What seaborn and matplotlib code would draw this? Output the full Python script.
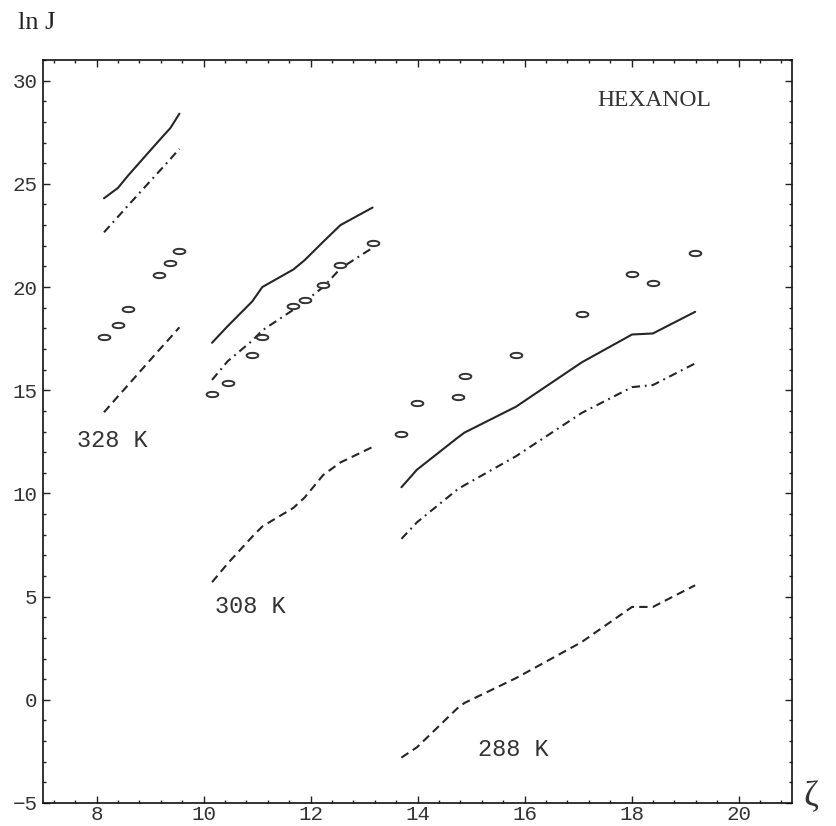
import numpy as np
import pandas as pd
import matplotlib
matplotlib.use("Agg")
import matplotlib.pyplot as plt
from matplotlib.ticker import MultipleLocator
import seaborn as sns

# ---- data: ln J versus zeta for hexanol at three temperatures ----
# 328 K
x_328 = [8.14, 8.40, 8.59, 9.17, 9.38, 9.55]
exp_328 = [17.57, 18.15, 18.92, 20.57, 21.15, 21.73]
solid_328 = [24.3, 24.8, 25.4, 27.1, 27.7, 28.4]
dashdot_328 = [22.65, 23.4, 23.95, 25.6, 26.2, 26.7]
dashed_328 = [13.93, 14.7, 15.25, 16.95, 17.55, 18.05]

# 308 K
x_308 = [10.16, 10.45, 10.91, 11.10, 11.68, 11.89, 12.24, 12.56, 13.16]
exp_308 = [14.81, 15.34, 16.69, 17.57, 19.07, 19.36, 20.08, 21.05, 22.12]
solid_308 = [17.3, 18.1, 19.3, 20.0, 20.85, 21.3, 22.2, 23.0, 23.85]
dashdot_308 = [15.5, 16.4, 17.4, 17.9, 18.9, 19.3, 20.0, 20.9, 21.9]
dashed_308 = [5.7, 6.6, 7.9, 8.4, 9.3, 9.8, 10.9, 11.5, 12.25]

# 288 K
x_288 = [13.70, 13.99, 14.75, 14.88, 15.84, 17.07, 18.01, 18.40, 19.19]
exp_288 = [12.87, 14.37, 14.66, 15.68, 16.70, 18.68, 20.62, 20.18, 21.63]
solid_288 = [10.3, 11.15, 12.7, 12.95, 14.2, 16.35, 17.7, 17.75, 18.8]
dashdot_288 = [7.8, 8.6, 10.2, 10.4, 11.8, 13.9, 15.15, 15.25, 16.3]
dashed_288 = [-2.8, -2.3, -0.4, -0.15, 1.05, 2.8, 4.5, 4.5, 5.55]

temps = ["328 K", "308 K", "288 K"]
label_x = [8.29, 10.88, 15.80]
label_y = [12.58, 4.54, -2.43]

groups = [
    (x_328, exp_328, solid_328, dashdot_328, dashed_328),
    (x_308, exp_308, solid_308, dashdot_308, dashed_308),
    (x_288, exp_288, solid_288, dashdot_288, dashed_288),
]

sns.set_theme(style="ticks")
plt.rcParams["font.family"] = ["Liberation Mono", "DejaVu Sans Mono"]

fig = plt.figure(figsize=(8.36, 8.26), dpi=100)
ax = fig.add_axes([43 / 836, 23 / 826, 749 / 836, 743 / 826])
ax.set_facecolor("white")

ink = "#262626"

# flattened open ellipse used for the measured points
t = np.linspace(0, 2 * np.pi, 40)
ellipse = list(zip(np.cos(t), 0.45 * np.sin(t)))

for xs, ex, so, dd, da in groups:
    sns.lineplot(x=xs, y=so, ax=ax, color=ink, lw=1.5, sort=False,
                 estimator=None, linestyle="-")
    sns.lineplot(x=xs, y=dd, ax=ax, color=ink, lw=1.5, sort=False,
                 estimator=None, linestyle=(0, (4.0, 2.3, 0.9, 2.3)))
    sns.lineplot(x=xs, y=da, ax=ax, color=ink, lw=1.5, sort=False,
                 estimator=None, linestyle=(0, (4.0, 2.5)))
    sns.scatterplot(x=xs, y=ex, ax=ax, marker=ellipse, s=72,
                    facecolor="white", edgecolor="#333333", linewidth=1.4,
                    zorder=3)

for txt, lx, ly in zip(temps, label_x, label_y):
    ax.text(lx, ly, txt, ha="center", va="center", fontsize=17,
            color="#333333", family=["Liberation Mono", "DejaVu Sans Mono"])

ax.text(18.42, 29.04, "HEXANOL", ha="center", va="center", fontsize=17,
        color="#333333", family=["Liberation Serif", "DejaVu Serif"])

ax.set_xlim(7, 21)
ax.set_ylim(-5, 31)
ax.xaxis.set_major_locator(MultipleLocator(2))
ax.xaxis.set_minor_locator(MultipleLocator(0.4))
ax.yaxis.set_major_locator(MultipleLocator(5))
ax.yaxis.set_minor_locator(MultipleLocator(1))
ax.set_xticks([8, 10, 12, 14, 16, 18, 20])
ax.set_yticks([-5, 0, 5, 10, 15, 20, 25, 30])

ax.tick_params(which="both", direction="in", top=True, right=True,
               color="#222222", width=1.0)
ax.tick_params(which="major", length=5, labelsize=15, labelcolor="#333333")
ax.tick_params(which="minor", length=2.5)
ax.tick_params(axis="x", pad=1.5)
ax.tick_params(axis="y", pad=4)

for s in ax.spines.values():
    s.set_visible(True)
    s.set_color("#111111")
    s.set_linewidth(1.2)

ax.set_xlabel("")
ax.set_ylabel("")
ax.grid(False)

fig.text(18 / 836, 1 - 23 / 826, "ln J", ha="left", va="center", fontsize=19,
         color="#222222", family=["Liberation Serif", "DejaVu Serif"])
fig.text(803 / 836, 1 - 798 / 826, "ζ", ha="left", va="center", fontsize=26,
         color="#333333", family=["Liberation Serif", "DejaVu Serif"])

fig.savefig("out.png", dpi=100, facecolor="white")
